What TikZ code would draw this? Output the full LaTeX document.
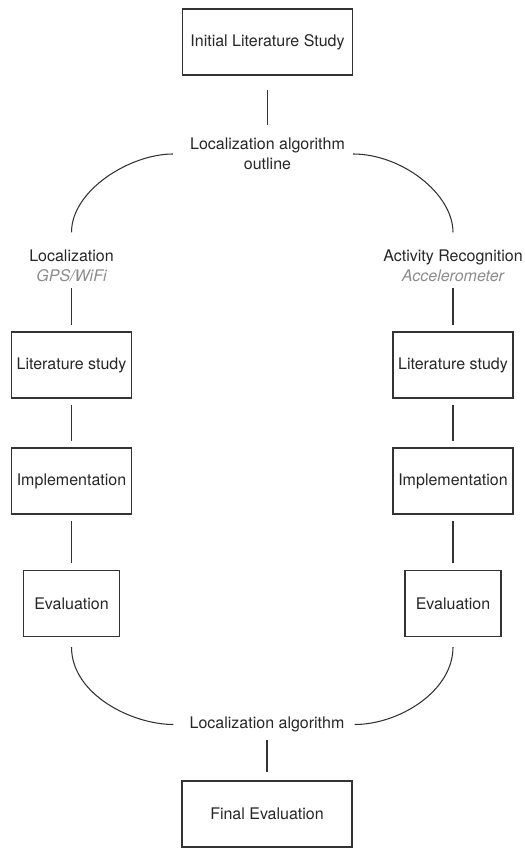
\documentclass[tikz,border=0pt]{standalone}
\usepackage{fontspec}
\setmainfont{TeX Gyre Heros}
\begin{document}
\begin{tikzpicture}[x=0.75pt, y=-0.75pt,
    every node/.style={font=\fontsize{12}{15}\selectfont, text=black!85},
    stage/.style={draw=black!80, line width=0.8pt, minimum height=49.5pt, inner xsep=2pt},
    milestone/.style={inner sep=0pt, align=center},
    link/.style={draw=black!80, line width=0.8pt, shorten <=5pt, shorten >=5pt}]
    \useasboundingbox (0,0) rectangle (524,848);

    \node[stage, minimum width=127.5pt] (init) at (267.5,42) {Initial Literature Study};
    \node[milestone] (outline) at (267.5,154) {Localization algorithm\\outline};

    \node[milestone] (loc) at (71.5,266) {Localization\\{\color{black!45}\itshape GPS/WiFi}};
    \node[milestone] (act) at (453,266) {Activity Recognition\\{\color{black!45}\itshape Accelerometer}};

    \node[stage, minimum width=90pt] (litL) at (71.5,365) {Literature study};
    \node[stage, minimum width=90pt] (litR) at (453,365) {Literature study};
    \node[stage, minimum width=90pt] (implL) at (71.5,481) {Implementation};
    \node[stage, minimum width=90pt] (implR) at (453,481) {Implementation};
    \node[stage, minimum width=72pt] (evalL) at (71.5,603.5) {Evaluation};
    \node[stage, minimum width=72pt] (evalR) at (453,603.5) {Evaluation};

    \node[milestone] (algo) at (267,724.5) {Localization algorithm};
    \node[stage, minimum width=127.5pt] (final) at (267,814) {Final Evaluation};

    \draw[link, shorten <=10.5pt, shorten >=9.4pt] (init) -- (outline);

    % split
    \draw[link, shorten <=12.75pt, shorten >=13pt] (outline.west) to[out=180, in=90] (loc.north);
    \draw[link, shorten <=6pt, shorten >=13pt] (outline.east) to[out=0, in=90] (act.north);

    \draw[link, shorten <=4.5pt] (loc) -- (litL);
    \draw[link] (litL) -- (implL);
    \draw[link] (implL) -- (evalL);
    \draw[link, shorten <=4.5pt] (act) -- (litR);
    \draw[link] (litR) -- (implR);
    \draw[link] (implR) -- (evalR);

    % merge
    \draw[link, shorten <=7.5pt, shorten >=12pt] (evalL.south) to[out=270, in=180] (algo.west);
    \draw[link, shorten <=7.5pt, shorten >=7.5pt] (evalR.south) to[out=270, in=0] (algo.east);

    \draw[link, shorten <=6pt, shorten >=6pt] (algo) -- (final);
\end{tikzpicture}
\end{document}
